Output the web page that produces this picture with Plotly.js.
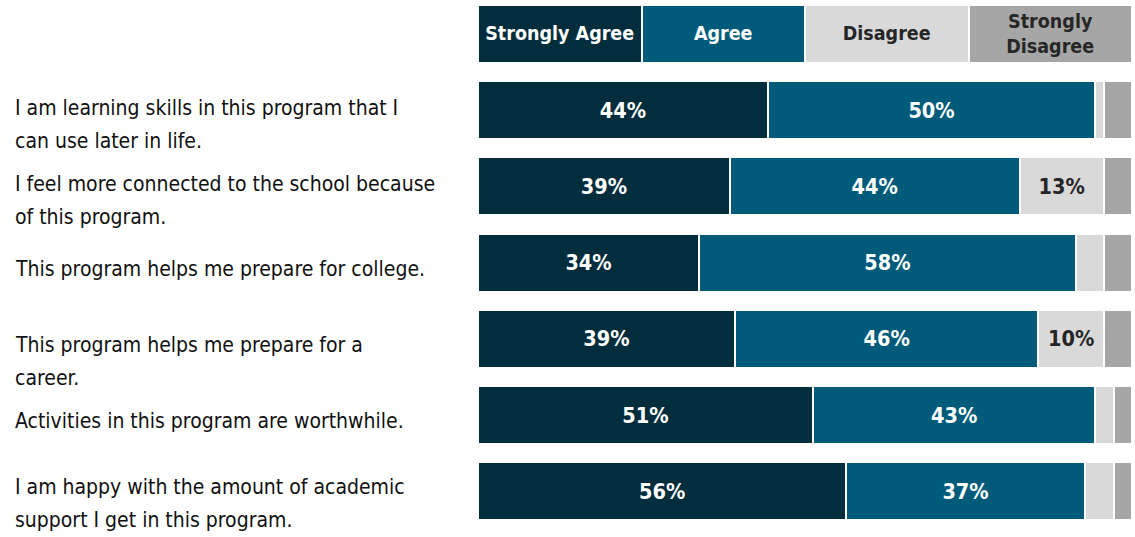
<!DOCTYPE html>
<html>
<head>
<meta charset="utf-8">
<script src="https://cdn.plot.ly/plotly-3.0.1.min.js"></script>
<style>html,body{margin:0;padding:0;background:#fff;}#chart{width:1135px;height:537px;}</style>
</head>
<body>
<div id="chart"></div>
<script>
// ---- data ----
const statements = [
  "I am learning skills in this program that I<br>can use later in life.",
  "I feel more connected to the school because<br>of this program.",
  "This program helps me prepare for college.",
  "This program helps me prepare for a<br>career.",
  "Activities in this program are worthwhile.",
  "I am happy with the amount of academic<br>support I get in this program."
];
const seriesNames = ["Strongly Agree", "Agree", "Disagree", "Strongly Disagree"];
const headerLabels = ["Strongly Agree", "Agree", "Disagree", "Strongly<br>Disagree"];
const stronglyAgree    = [44.3, 38.5, 33.8, 39.3, 51.2, 56.3];
const agree            = [50.1, 44.3, 57.6, 46.4, 43.2, 36.5];
const disagree         = [1.3, 12.9, 4.3, 10.0, 2.8, 4.4];
const stronglyDisagree = [4.3, 4.3, 4.3, 4.3, 2.8, 2.8];
const headerShare      = [25, 25, 25, 25];

// ---- styling ----
const colors = ["#022d3c", "#005b7a", "#d9d9d9", "#a6a6a6"];
const textColors = ["#ffffff", "#ffffff", "#262626", "#262626"];
const FONT = "'DejaVu Sans Condensed', 'Liberation Sans Narrow', sans-serif";
const labelShift = [2, 2, -6, -6, -6, 4];   // vertical nudge of row labels (px)
const LINE_GAP = 33;
const HEADER_KEY = " ";
const yCats = [HEADER_KEY].concat(statements);
const seriesValues = [stronglyAgree, agree, disagree, stronglyDisagree];

const traces = seriesValues.map((vals, k) => {
  const xs = [headerShare[k]].concat(vals);
  const txt = [headerLabels[k]].concat(vals.map(v => v >= 9.5 ? Math.round(v) + "%" : ""));
  const sizes = [19.5].concat(vals.map(() => 21.5));
  return {
    type: "bar",
    orientation: "h",
    name: seriesNames[k],
    y: yCats,
    x: xs,
    text: txt,
    texttemplate: "%{text}",
    textposition: "inside",
    insidetextanchor: "middle",
    textangle: 0,
    constraintext: "none",
    textfont: {family: FONT, size: sizes, color: textColors[k], weight: "bold"},
    marker: {color: colors[k], line: {color: "#ffffff", width: 2}},
    hoverinfo: "skip",
    cliponaxis: false
  };
});

const annotations = [];
statements.forEach((s, i) => {
  s.split("<br>").forEach((line, j) => {
    annotations.push({
      xref: "paper", yref: "y",
      x: -0.7115, y: s,
      xanchor: "left", yanchor: "middle",
      yshift: labelShift[i] - LINE_GAP * j,
      text: line, showarrow: false, align: "left",
      font: {family: FONT, size: 21, color: "#111111"}
    });
  });
});

const layout = {
  width: 1135, height: 537,
  margin: {l: 478, r: 3, t: 0, b: 0, pad: 0},
  paper_bgcolor: "#ffffff", plot_bgcolor: "#ffffff",
  barmode: "stack", barnorm: "percent",
  bargap: 0.24,
  showlegend: false,
  xaxis: {range: [0, 100], visible: false, fixedrange: true},
  yaxis: {type: "category", categoryarray: yCats, categoryorder: "array",
          range: [6.601, -0.446], showticklabels: false, showgrid: false,
          zeroline: false, showline: false, ticks: ""},
  annotations: annotations,
  font: {family: FONT}
};

Plotly.newPlot("chart", traces, layout, {displayModeBar: false, staticPlot: true});
</script>
</body>
</html>
